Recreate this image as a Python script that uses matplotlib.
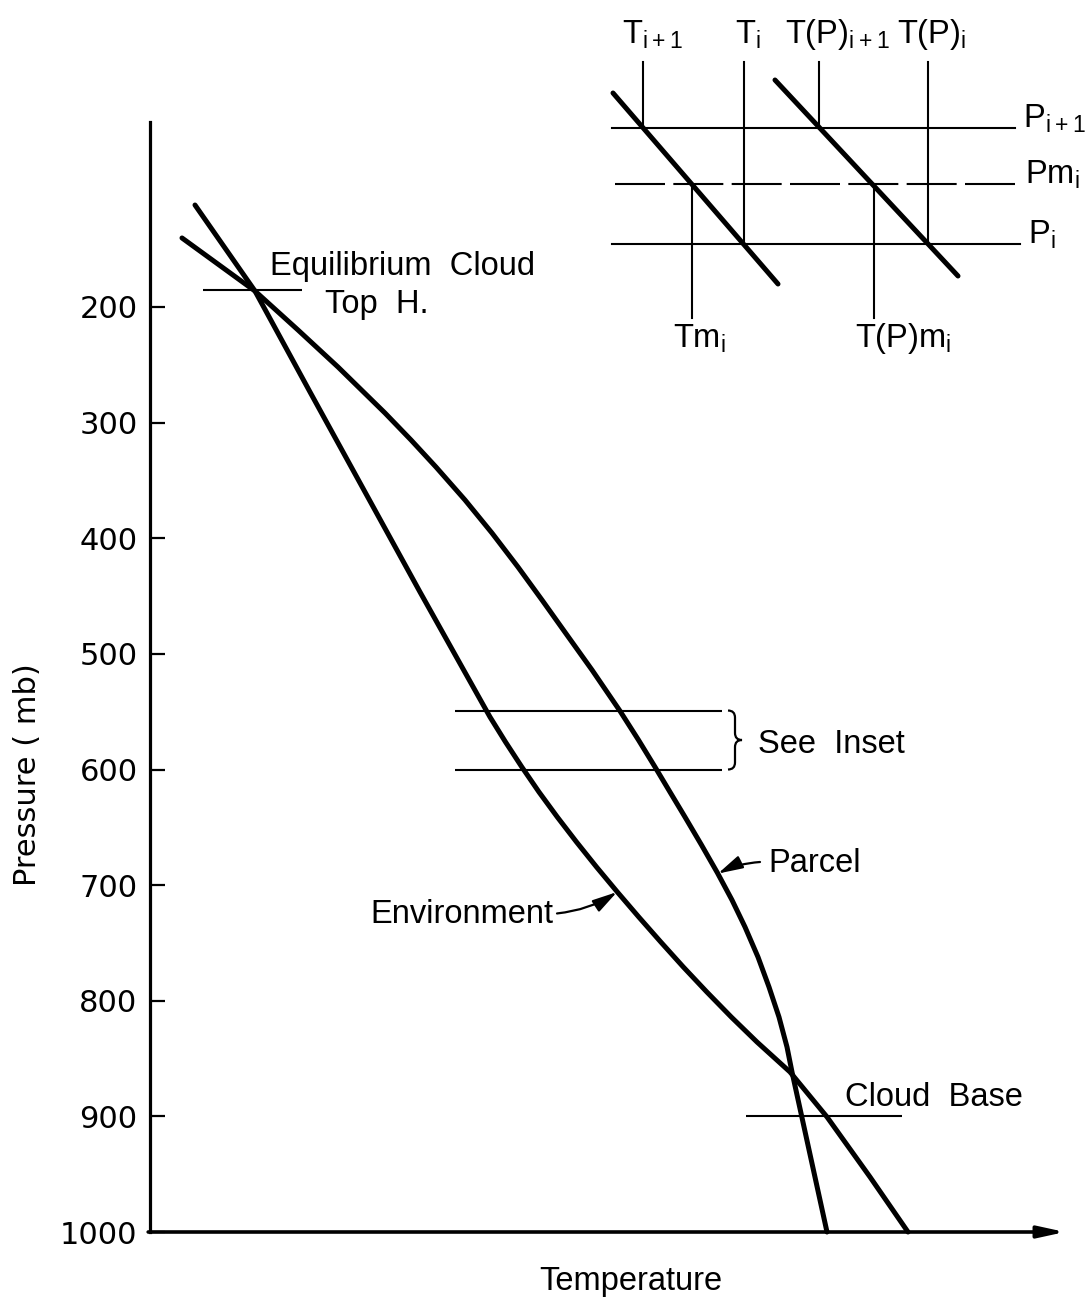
import matplotlib
matplotlib.use("Agg")
import matplotlib.pyplot as plt
from matplotlib.path import Path
from matplotlib.patches import PathPatch

# ---------------- data (temperature in arbitrary units, pressure in mb) ----------------
env_T = [45, 105, 160, 215, 270, 312, 340, 355.5, 371.8, 389, 407.3, 426.5, 446.5, 467.3,
         488.8, 510.8, 533.3, 556.8, 581.3, 607, 640, 677, 720, 758]
env_P = [111.8, 186.2, 273.5, 360.0, 446.5, 511.4, 554.6, 576.2, 597.8, 619.5, 641.1, 662.7,
         684.3, 705.9, 727.6, 749.2, 770.8, 792.4, 814.1, 835.7, 861.6, 900.5, 952.4, 1000]

parcel_T = [32, 105, 148, 188, 235, 261, 286, 315, 342, 368, 392, 417, 442, 470, 488.5, 505,
            520, 535, 551.5, 567.5, 582, 595, 608, 619, 629, 637, 642, 677]
parcel_P = [140.3, 186.2, 219.9, 251.9, 291.7, 315.0, 338.4, 366.9, 395.5, 424.9, 453.4, 483.7,
            513.9, 549.4, 574.5, 597.8, 619.5, 641.1, 665.3, 689.5, 712.9, 736.2, 762.2, 788.1,
            814.1, 840.0, 861.6, 1000]

pressure_ticks = [200, 300, 400, 500, 600, 700, 800, 900, 1000]
tick_labels = ["200", "300", "400", "500", "600", "700", "800", "900", "1000"]

cloud_top_P, cloud_top_T = 185, [53, 152]
inset_P = [549, 600]
inset_T = [305, 572]
cloud_base_P, cloud_base_T = 900, [596, 752]

# inset (schematic units)
inset_level_names = ["P$_\\mathregular{i+1}$", "Pm$_\\mathregular{i}$", "P$_\\mathregular{i}$"]
inset_level_y = [128, 184, 244]
inset_level_x0 = [12, 15, 12]
inset_level_x1 = [415, 423, 420]
inset_env_x, inset_env_y = [13, 178], [93, 284]
inset_par_x, inset_par_y = [175, 358], [80, 276]
inset_top_names = ["T$_\\mathregular{i+1}$", "T$_\\mathregular{i}$", "T(P)$_\\mathregular{i+1}$", "T(P)$_\\mathregular{i}$"]
inset_top_x = [43, 144, 219, 328]
inset_top_end = [128, 244, 128, 244]
inset_mid_names = ["Tm$_\\mathregular{i}$", "T(P)m$_\\mathregular{i}$"]
inset_mid_x = [92, 274]

# ---------------- figure ----------------
W, H = 1087, 1298
fig = plt.figure(figsize=(W / 100, H / 100), dpi=100)
FONT = "Liberation Sans"
plt.rcParams["font.family"] = [FONT, "DejaVu Sans"]
FS = 23.5

ax = fig.add_axes([150 / W, 1 - 1232 / H, (1065 - 150) / W, (1232 - 122) / H])
ax.set_xlim(0, 915)
ax.set_ylim(1000, 40)
for s in ["top", "right", "bottom"]:
    ax.spines[s].set_visible(False)
ax.spines["left"].set_linewidth(2.3)
ax.set_xticks([])
ax.set_yticks(pressure_ticks)
ax.set_yticklabels(tick_labels, family="DejaVu Sans", fontsize=22)
ax.tick_params(axis="y", direction="in", length=11, width=1.6, pad=9)

# x axis with arrow
ax.annotate("", xy=(1.0, 0), xytext=(-0.002, 0), xycoords="axes fraction",
            arrowprops=dict(arrowstyle="-|>,head_length=1.6,head_width=0.35",
                            lw=2.6, color="black", shrinkA=0, shrinkB=0),
            annotation_clip=False)

ax.plot(env_T, env_P, color="black", lw=3.6, solid_capstyle="round",
        solid_joinstyle="round", clip_on=False)
ax.plot(parcel_T, parcel_P, color="black", lw=3.6, solid_capstyle="round",
        solid_joinstyle="round", clip_on=False)

ax.hlines([cloud_top_P], *cloud_top_T, color="black", lw=1.5)
ax.hlines(inset_P, *inset_T, color="black", lw=1.5)
ax.hlines([cloud_base_P], *cloud_base_T, color="black", lw=1.5)

# brace
def brace(ax, x, y0, y1, w):
    ym = 0.5 * (y0 + y1)
    verts = [(x - w, y0), (x, y0), (x, y0 + 0.12 * (y1 - y0)),
             (x, ym - 0.12 * (y1 - y0)), (x, ym), (x + w, ym),
             (x, ym), (x, ym + 0.12 * (y1 - y0)),
             (x, y1 - 0.12 * (y1 - y0)), (x, y1), (x - w, y1)]
    codes = [Path.MOVETO, Path.CURVE3, Path.CURVE3, Path.LINETO, Path.CURVE3, Path.CURVE3,
             Path.CURVE3, Path.CURVE3, Path.LINETO, Path.CURVE3, Path.CURVE3]
    ax.add_patch(PathPatch(Path(verts, codes), fill=False, lw=1.6, color="black", clip_on=False))

brace(ax, 585, 549, 600, 7)

ax.text(120, 172, "Equilibrium  Cloud", fontsize=FS, va="baseline", ha="left")
ax.text(175, 205, "Top  H.", fontsize=FS, va="baseline", ha="left")
ax.text(608, 586, "See  Inset", fontsize=FS, va="baseline", ha="left")
ax.text(618, 689, "Parcel", fontsize=FS, va="baseline", ha="left")
ax.text(220, 733, "Environment", fontsize=FS, va="baseline", ha="left")
ax.text(695, 891, "Cloud  Base", fontsize=FS, va="baseline", ha="left")

arrow_kw = dict(arrowstyle="-|>,head_length=1.5,head_width=0.4", lw=1.6, color="black",
                shrinkA=0, shrinkB=0)
ax.annotate("", xy=(467, 706), xytext=(407, 724.5),
            arrowprops=dict(connectionstyle="arc3,rad=0.12", **arrow_kw))
ax.annotate("", xy=(568, 690), xytext=(610, 680),
            arrowprops=dict(connectionstyle="arc3,rad=0.1", **arrow_kw))

ax.set_ylabel("Pressure ( mb)", family="DejaVu Sans", fontsize=22)
ax.yaxis.set_label_coords(-0.118, 0.412)
ax.set_xlabel("Temperature", fontsize=FS)
ax.xaxis.set_label_coords(0.525, -0.031)

# ---------------- inset ----------------
ai = fig.add_axes([600 / W, 1 - 360 / H, 487 / W, 360 / H])
ai.set_xlim(0, 487)
ai.set_ylim(360, 0)
ai.axis("off")
for name, y, x0, x1 in zip(inset_level_names, inset_level_y, inset_level_x0, inset_level_x1):
    ls = (0, (24, 4)) if name.startswith("Pm") else "-"
    ai.plot([x0, x1], [y, y], color="black", lw=1.5, linestyle=ls)
    ai.text(x1 + 8 if not name.startswith("Pm") else x1 + 2, y - 1, name, fontsize=FS,
            va="baseline", ha="left")
for name, x, yend in zip(inset_top_names, inset_top_x, inset_top_end):
    ai.plot([x, x], [62, yend], color="black", lw=1.5)
for name, x in zip(inset_mid_names, inset_mid_x):
    ai.plot([x, x], [inset_level_y[1], 318], color="black", lw=1.5)
ai.plot(inset_env_x, inset_env_y, color="black", lw=3.6, solid_capstyle="round")
ai.plot(inset_par_x, inset_par_y, color="black", lw=3.6, solid_capstyle="round")

top_label_x = [22, 135, 185, 297]
for name, x in zip(inset_top_names, top_label_x):
    ai.text(x, 43, name, fontsize=FS, va="baseline", ha="left")
mid_label_x = [73, 255]
for name, x in zip(inset_mid_names, mid_label_x):
    ai.text(x, 347, name, fontsize=FS, va="baseline", ha="left")

fig.savefig("out.png", dpi=100)
